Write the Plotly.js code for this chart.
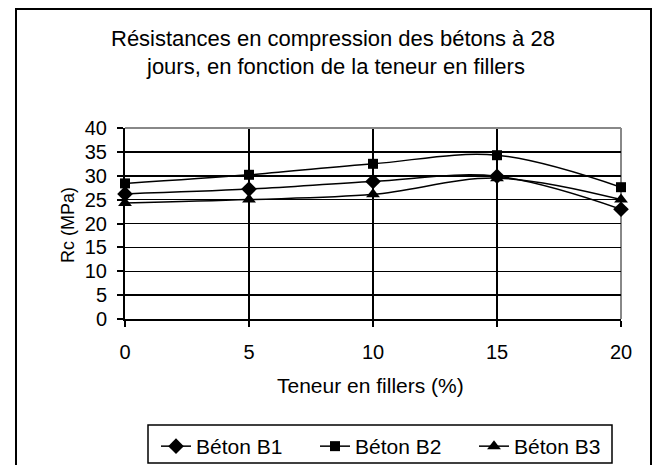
<!DOCTYPE html>
<html>
<head>
<meta charset="utf-8">
<script src="https://cdn.plot.ly/plotly-3.0.1.min.js"></script>
<style>
html,body{margin:0;padding:0;background:#fff;overflow:hidden;width:660px;height:465px;}
#chart{width:660px;height:465px;overflow:hidden;}
</style>
</head>
<body>
<div id="chart"></div>
<script>
var fillers = [0, 5, 10, 15, 20];
var betonB1 = [26.2, 27.2, 28.8, 29.9, 23.0];
var betonB2 = [28.4, 30.2, 32.5, 34.3, 27.6];
var betonB3 = [24.3, 25.0, 26.1, 29.5, 25.0];
var seriesNames = ["Béton B1", "Béton B2", "Béton B3"];
var titleLines = ["Résistances en compression des bétons à 28", "jours, en fonction de la teneur en fillers"];
var xTitle = "Teneur en fillers (%)";
var yTitle = "Rc (MPa)";

var FONT = "Liberation Sans, Arial, sans-serif";
var L = 125, R = 39, T = 128, B = 146, W = 660, H = 465;
var pw = W - L - R, ph = H - T - B;
function px(x){ return (x - L) / pw; }
function py(y){ return (H - B - y) / ph; }

function mk(y, name, sym, size){
  return {
    x: fillers, y: y, name: name, type: 'scatter', mode: 'lines+markers',
    line: {color: '#000', width: 1.5, shape: 'spline', smoothing: 1},
    marker: {symbol: sym, size: size, color: '#000'},
    cliponaxis: false
  };
}
var data = [
  mk(betonB1, seriesNames[0], 'diamond', 12),
  mk(betonB2, seriesNames[1], 'square', 10),
  mk(betonB3, seriesNames[2], 'triangle-up', 12)
];

var layout = {
  width: W, height: H,
  margin: {l: L, r: R, t: T, b: B, pad: 0, autoexpand: false},
  paper_bgcolor: '#fff', plot_bgcolor: '#fff',
  font: {family: FONT, size: 20, color: '#000'},
  showlegend: true,
  legend: {
    orientation: 'h', x: px(156), y: py(426), xanchor: 'left', yanchor: 'top',
    entrywidth: 114, entrywidthmode: 'pixels',
    bgcolor: 'rgba(0,0,0,0)', borderwidth: 0,
    font: {family: FONT, size: 21, color: '#000'},
    itemclick: false
  },
  xaxis: {
    range: [0, 20], tickmode: 'array', tickvals: fillers, ticktext: fillers.map(String),
    showgrid: true, gridcolor: '#000', gridwidth: 1.5,
    showline: true, linecolor: '#000', linewidth: 2,
    ticks: 'outside', ticklen: 6, tickcolor: '#000', tickwidth: 2,
    ticklabelstandoff: 8,
    zeroline: false, fixedrange: true,
    tickfont: {family: FONT, size: 20, color: '#000'}
  },
  yaxis: {
    range: [0, 40], dtick: 5, tick0: 0,
    showgrid: true, gridcolor: '#000', gridwidth: 1.5,
    showline: true, linecolor: '#000', linewidth: 2,
    ticks: 'outside', ticklen: 6, tickcolor: '#000', tickwidth: 2,
    ticklabelstandoff: 6,
    zeroline: false, fixedrange: true,
    tickfont: {family: FONT, size: 20, color: '#000'}
  },
  annotations: [
    {text: titleLines[0], xref: 'paper', yref: 'paper', x: px(333), y: py(38), xanchor: 'center', yanchor: 'middle', showarrow: false, font: {family: FONT, size: 22, color: '#000'}},
    {text: titleLines[1], xref: 'paper', yref: 'paper', x: px(335), y: py(66), xanchor: 'center', yanchor: 'middle', showarrow: false, font: {family: FONT, size: 22, color: '#000'}},
    {text: xTitle, xref: 'paper', yref: 'paper', x: px(370), y: py(385), xanchor: 'center', yanchor: 'middle', showarrow: false, font: {family: FONT, size: 21, color: '#000'}},
    {text: yTitle, xref: 'paper', yref: 'paper', x: px(68), y: py(225), xanchor: 'center', yanchor: 'middle', textangle: -90, showarrow: false, font: {family: FONT, size: 18, color: '#000'}}
  ],
  shapes: [
    {type: 'line', xref: 'paper', yref: 'paper', x0: px(16), x1: px(16), y0: py(9), y1: py(466), line: {color: '#000', width: 2}, layer: 'below'},
    {type: 'line', xref: 'paper', yref: 'paper', x0: px(651), x1: px(651), y0: py(9), y1: py(466), line: {color: '#000', width: 2}, layer: 'below'},
    {type: 'line', xref: 'paper', yref: 'paper', x0: px(15), x1: px(652), y0: py(9), y1: py(9), line: {color: '#000', width: 2}, layer: 'below'},
    {type: 'rect', xref: 'paper', yref: 'paper', x0: px(148), x1: px(612), y0: py(425), y1: py(463), line: {color: '#000', width: 1.5}, layer: 'below'},
    {type: 'line', xref: 'paper', yref: 'paper', x0: 0, x1: 1, y0: 1, y1: 1, line: {color: '#888', width: 2}, layer: 'above'},
    {type: 'line', xref: 'paper', yref: 'paper', x0: 1, x1: 1, y0: 0, y1: 1, line: {color: '#888', width: 2}, layer: 'below'}
  ]
};

Plotly.newPlot('chart', data, layout, {displayModeBar: false, staticPlot: true});
</script>
</body>
</html>
